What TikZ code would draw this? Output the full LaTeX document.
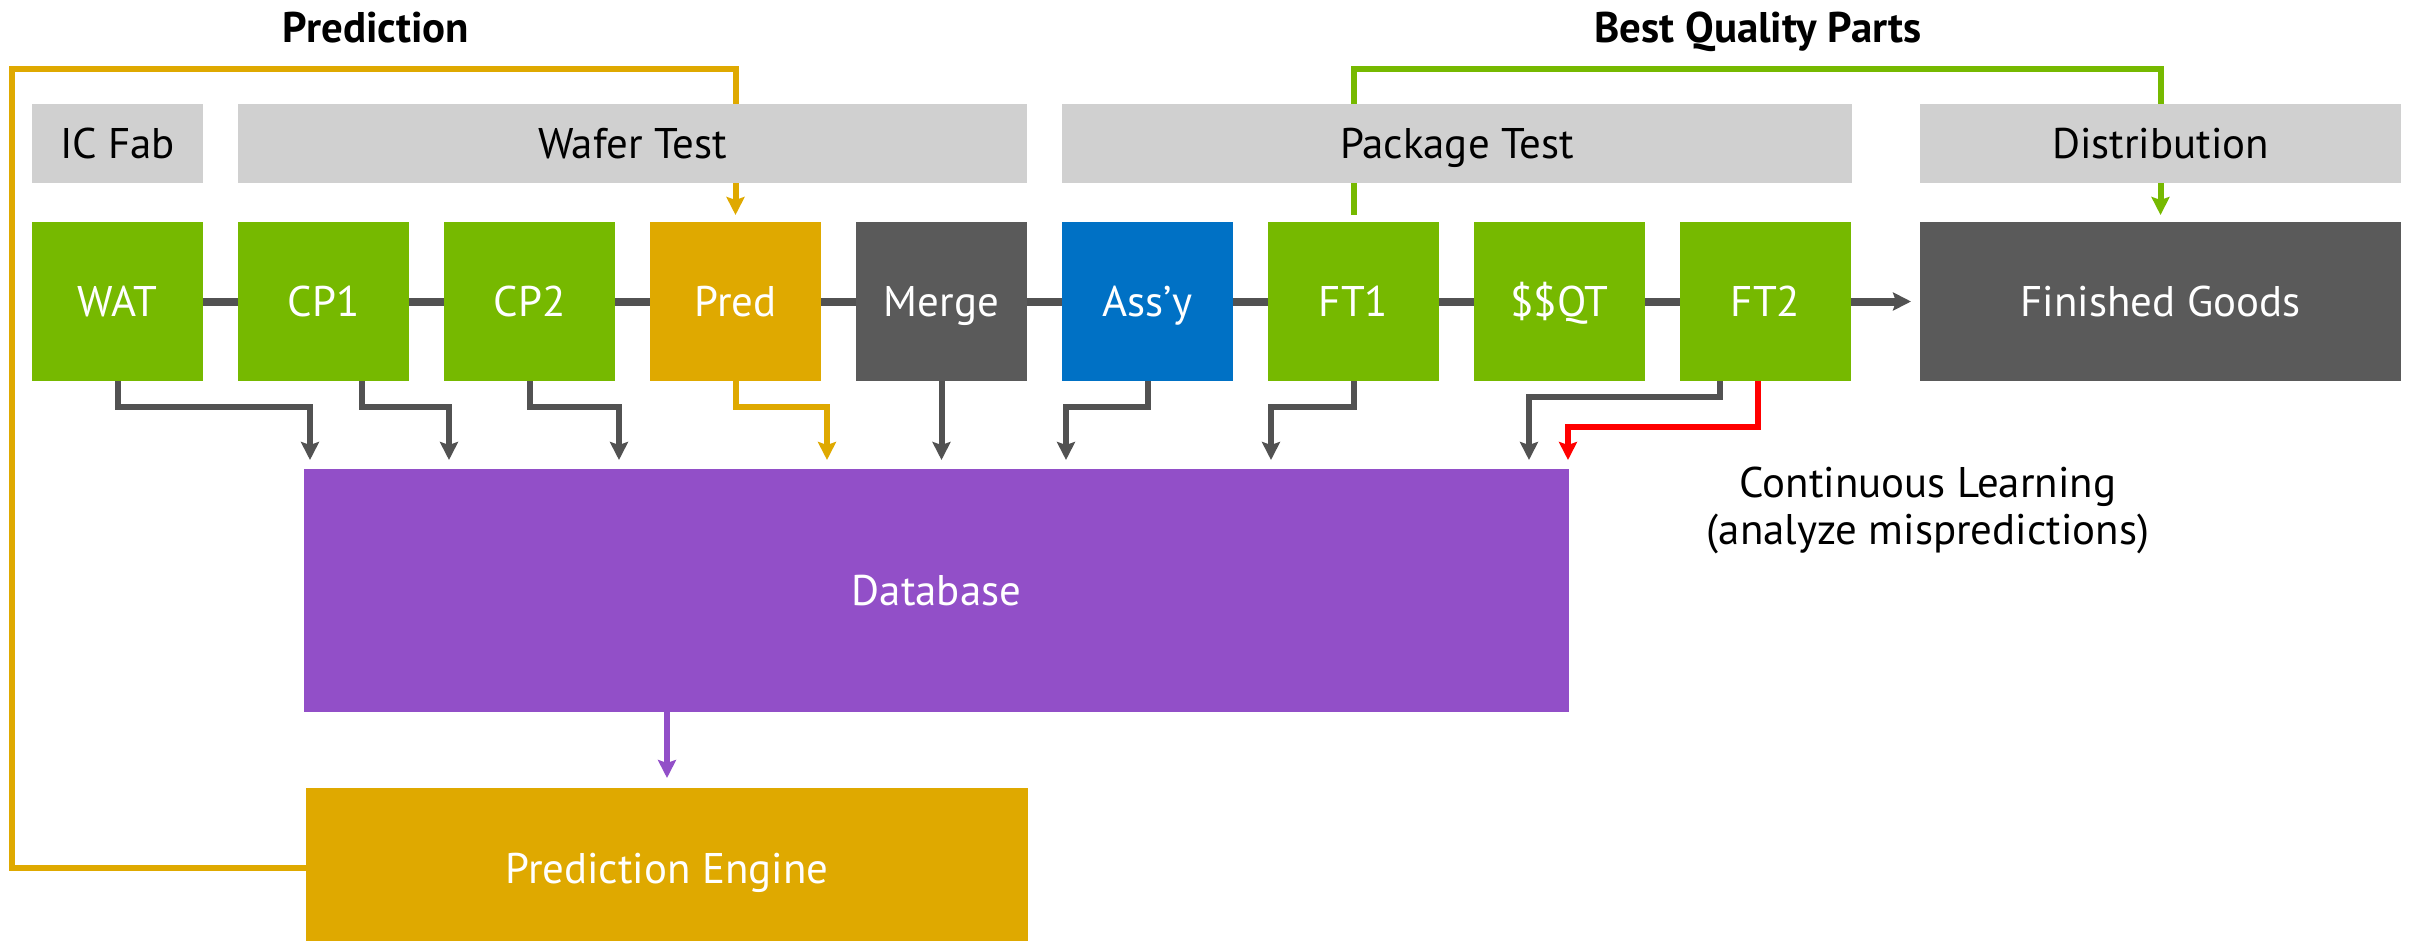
\documentclass[tikz,border=0pt]{standalone}
\usepackage{fontspec}
\setmainfont{PT Sans}
\usepackage{xcolor}
\usepackage{tikz}
\usetikzlibrary{positioning, arrows.meta, backgrounds}
\definecolor{nvgreen}{RGB}{118, 185, 0}
\definecolor{hdrgray}{RGB}{208, 208, 208}
\definecolor{boxgray}{RGB}{90, 90, 90}
\definecolor{linegray}{RGB}{82, 82, 82}
\definecolor{assyblue}{RGB}{0, 113, 197}
\definecolor{predgold}{RGB}{223, 169, 0}
\definecolor{dbpurple}{RGB}{146, 79, 200}

\tikzset{
    >={Stealth[length=0.18cm, width=0.18cm, inset=0.03cm]},
    every node/.style={font=\fontsize{12.2}{13.4}\selectfont, inner sep=0pt, outer sep=0pt},
    stage/.style={rectangle, fill=#1, text=white, minimum width=1.71cm, minimum height=1.59cm, text height=0.30cm, text depth=0cm},
    phase/.style={rectangle, fill=hdrgray, text=black, minimum height=0.79cm, text height=0.30cm, text depth=0cm},
    title/.style={font=\fontsize{12.2}{13.4}\selectfont\bfseries, anchor=base},
    link/.style={draw=linegray, line width=0.08cm},
    dbfeed/.style={->, draw=#1, line width=0.06cm, shorten >=0.09cm},
    feedloop/.style={->, draw=#1, line width=0.06cm, shorten >=0.07cm},
}

\begin{document}
\begin{tikzpicture}
    \useasboundingbox (0,0) rectangle (24.18,-9.41);

    % process row
    \node[stage=nvgreen, anchor=north west] (wat) at (0.32,-2.22) {WAT};
    \node[stage=nvgreen, right=0.35cm of wat] (cp1) {CP1};
    \node[stage=nvgreen, right=0.35cm of cp1] (cp2) {CP2};
    \node[stage=predgold, right=0.35cm of cp2] (pred) {Pred};
    \node[stage=boxgray, right=0.35cm of pred] (merge) {Merge};
    \node[stage=assyblue, right=0.35cm of merge] (assy) {Ass’y};
    \node[stage=nvgreen, right=0.35cm of assy] (ft1) {FT1};
    \node[stage=nvgreen, right=0.35cm of ft1] (qt) {\$\$QT};
    \node[stage=nvgreen, right=0.35cm of qt] (ft2) {FT2};
    \node[stage=boxgray, minimum width=4.81cm, right=0.69cm of ft2] (fin) {Finished Goods};

    % phase headers
    \node[phase, minimum width=1.71cm, above=0.39cm of wat] (icfab) {IC Fab};
    \node[phase, minimum width=7.89cm, anchor=south west] (wafer) at ([yshift=0.39cm]cp1.north west) {Wafer Test};
    \node[phase, minimum width=7.90cm, anchor=south west] (pkg) at ([yshift=0.39cm]assy.north west) {Package Test};
    \node[phase, minimum width=4.81cm, above=0.39cm of fin] (dist) {Distribution};

    \node[rectangle, fill=dbpurple, text=white, minimum width=12.65cm, minimum height=2.43cm, text height=0.30cm, text depth=0cm, anchor=north west] (db) at (3.04,-4.69) {Database};
    \node[rectangle, fill=predgold, text=white, minimum width=7.22cm, minimum height=1.60cm, text height=0.30cm, text depth=0cm, anchor=north west] (engine) at (3.06,-7.88) {Prediction Engine};

    \node[title] (predlbl) at (3.76,-0.43) {Prediction};
    \node[title] (bestlbl) at (17.58,-0.43) {Best Quality Parts};
    \node[align=center] (learn) at (19.28,-5.10) {Continuous Learning\\(analyze mispredictions)};

    % flow along the row
    \foreach \a/\b in {wat/cp1, cp1/cp2, cp2/pred, pred/merge, merge/assy, assy/ft1, ft1/qt, qt/ft2}
        \draw[link] (\a) -- (\b);
    \draw[link, ->, shorten >=0.09cm] (ft2) -- (fin);

    % results into the database
    \draw[dbfeed=linegray] (wat.south) -- ++(0,-0.26) -| ([xshift=0.06cm]db.north west);
    \draw[dbfeed=linegray] ([xshift=-0.47cm]cp1.south east) -- ++(0,-0.26) -| ([xshift=1.45cm]db.north west);
    \draw[dbfeed=linegray] (cp2.south) -- ++(0,-0.26) -| ([xshift=3.15cm]db.north west);
    \draw[dbfeed=predgold] (pred.south) -- ++(0,-0.26) -| ([xshift=5.23cm]db.north west);
    \draw[dbfeed=linegray] (merge.south) -- (merge.south |- db.north);
    \draw[dbfeed=linegray] (assy.south) -- ++(0,-0.26) -| ([xshift=7.62cm]db.north west);
    \draw[dbfeed=linegray] (ft1.south) -- ++(0,-0.26) -| ([xshift=9.67cm]db.north west);
    \draw[dbfeed=linegray] ([xshift=0.40cm]ft2.south west) -- ++(0,-0.16) -| ([xshift=12.25cm]db.north west);
    \draw[dbfeed=red] ([xshift=0.78cm]ft2.south west) -- ++(0,-0.46) -| ([xshift=-0.01cm]db.north east);
    \draw[dbfeed=dbpurple, shorten >=0.10cm] (db.south -| engine.north) -- (engine.north);

    % feedback loops, behind the headers
    \begin{scope}[on background layer]
        \coordinate (rail) at (0.12,-0.69);
        \draw[feedloop=predgold] (engine.west) -| (rail) -| (pred.north);
        \draw[feedloop=nvgreen] ([yshift=0.07cm]ft1.north) |- (rail -| fin.north) -- (fin.north);
    \end{scope}
\end{tikzpicture}
\end{document}
